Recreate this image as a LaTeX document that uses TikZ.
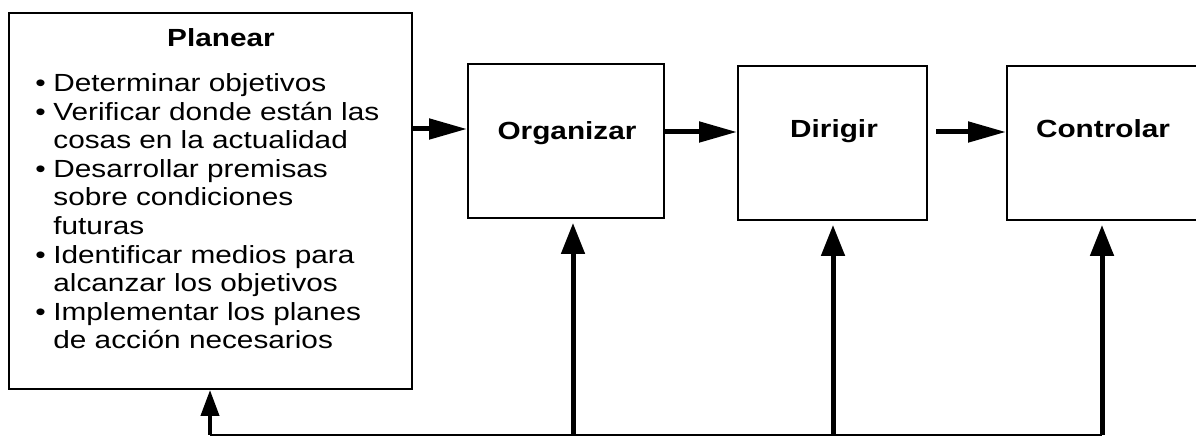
\documentclass[tikz,border=0pt]{standalone}
\usepackage{fontspec}
\setmainfont[FakeStretch=1.2]{Liberation Sans}
\usetikzlibrary{arrows.meta,positioning}

\begin{document}
\begin{tikzpicture}[x=0.5pt,y=-0.5pt,
                    caja/.style={draw,line width=1pt,inner sep=0pt},
                    titulo/.style={font=\fontsize{12.4}{14.3}\selectfont\bfseries,inner sep=0pt,anchor=base},
                    lista/.style={font=\fontsize{12.4}{14.3}\selectfont,inner sep=0pt,align=left,anchor=north west},
                    flecha/.style={-{Triangle[length=19pt,width=10pt]},line width=2.5pt},
                    subida/.style={-{Triangle[length=15.5pt,width=11.5pt]},line width=2.5pt,shorten >=2pt},
                    retorno/.style={line width=0.9pt}]

                \useasboundingbox (0,0) rectangle (1196,437);

                \node[caja,minimum width=201.5pt,minimum height=188pt] (plan) at (210.5,201) {};

                \node[caja,minimum width=98pt,minimum height=77pt] (org) at (566,141) {};

                \node[caja,minimum width=94.5pt,minimum height=77pt] (dir) at (832.5,143) {};

                \node[caja,minimum width=101.5pt,minimum height=77pt] (con) at (1108.5,143) {};

                

                \node[titulo] (plant) at (221,47) {Planear};

                \node[titulo] (orgt) at (567,140) {Organizar};

                \node[titulo] (dirt) at (834,138) {Dirigir};

                \node[titulo] (cont) at (1103,138) {Controlar};

                \node[lista] (planl) at (35,71) {\strut\makebox[9pt][l]{\textbullet}Determinar objetivos\\
                    \makebox[9pt][l]{\textbullet}Verificar donde están las\\
                    \hspace*{9pt}cosas en la actualidad\\
                    \makebox[9pt][l]{\textbullet}Desarrollar premisas\\
                    \hspace*{9pt}sobre condiciones\\
                    \hspace*{9pt}futuras\\
                    \makebox[9pt][l]{\textbullet}Identificar medios para\\
                    \hspace*{9pt}alcanzar los objetivos\\
                    \makebox[9pt][l]{\textbullet}Implementar los planes\\
                    \hspace*{9pt}de acción necesarios};

                

                \coordinate (eje1) at (0,129);

                \coordinate (eje2) at (0,132);

                \coordinate (ret0) at (210,435);

                \coordinate (ret1) at (573,435);

                \coordinate (ret2) at (833,435);

                \coordinate (ret3) at (1102,435);

                

                \draw[flecha] (plan.east |- eje1) -- (org.west |- eje1);

                \draw[flecha] (org.east |- eje2) -- (dir.west |- eje2);

                \draw[flecha,shorten <=4pt] (dir.east |- eje2) -- (con.west |- eje2);

                

                \draw[retorno] (ret0) -- (ret3);

                \draw[-{Triangle[length=13pt,width=9pt]},line width=2pt] (ret0) -- (plan.south -| ret0);

                \foreach \from/\to in {ret1/org, ret2/dir, ret3/con}
                    {
                    \draw[subida] (\from) -- (\from |- \to.south);
                    }

            \end{tikzpicture}
\end{document}
